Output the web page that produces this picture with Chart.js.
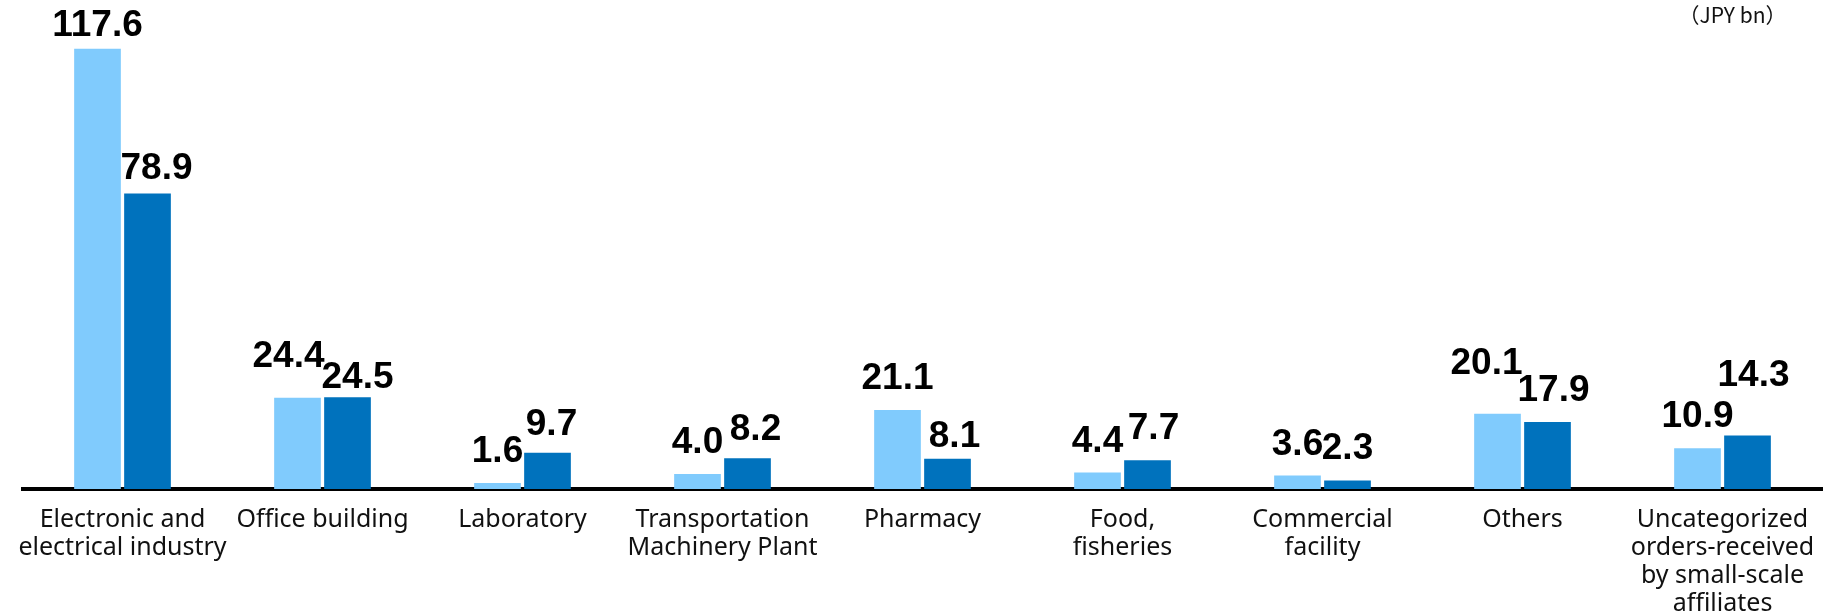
<!DOCTYPE html>
<html>
<head>
<meta charset="utf-8">
<script src="https://cdn.jsdelivr.net/npm/chart.js@4.4.1/dist/chart.umd.min.js"></script>
<style>
    html, body { margin: 0; padding: 0; background: #fff; }
</style>
</head>
<body>
<canvas id="orders" width="1839" height="614"></canvas>
<script>
var categories = [
    ['Electronic and', 'electrical industry'],
    'Office building',
    'Laboratory',
    ['Transportation', 'Machinery Plant'],
    'Pharmacy',
    ['Food,', 'fisheries'],
    ['Commercial', 'facility'],
    'Others',
    ['Uncategorized', 'orders-received', 'by small-scale', 'affiliates']
];
var priorValues = [117.6, 24.4, 1.6, 4.0, 21.1, 4.4, 3.6, 20.1, 10.9];
var currentValues = [78.9, 24.5, 9.7, 8.2, 8.1, 7.7, 2.3, 17.9, 14.3];
var unitLabel = '（JPY bn）';

// hand nudges [dx, dy] for the value labels so neighbours don't run into each other
var priorLabelShift = [[0, -8], [-9, 10], [0, 0], [0, 0], [0, 0], [0, 0], [0, 0], [-11, 19], [0, 0]];
var currentLabelShift = [[9, -6], [10, -12], [4, -3], [8, -3], [7, -9], [6, 0], [0, 0], [6, 0], [6, 28]];

// draws the numbers above the bars and the unit note in the corner
var valueLabels = {
    id: 'valueLabels',
    afterDatasetsDraw: function (chart) {
        var ctx = chart.ctx;
        ctx.save();
        ctx.font = 'bold 37px "Liberation Sans", Arial, sans-serif';
        ctx.fillStyle = '#000';
        ctx.textAlign = 'center';
        ctx.textBaseline = 'alphabetic';
        chart.data.datasets.forEach(function (ds, i) {
            var shifts = i === 0 ? priorLabelShift : currentLabelShift;
            chart.getDatasetMeta(i).data.forEach(function (bar, j) {
                var s = shifts[j];
                ctx.fillText(ds.data[j].toFixed(1), bar.x + s[0], bar.y - 21 - s[1]);
            });
        });

        ctx.font = '21px "Noto Sans CJK JP", "Liberation Sans", sans-serif';
        ctx.fillStyle = '#111';
        ctx.textBaseline = 'middle';
        ctx.fillText(unitLabel, chart.chartArea.right - 90, 15);
        ctx.restore();
    }
};

var ctx = document.getElementById('orders').getContext('2d');
var chart = new Chart(ctx, {
    type: 'bar',
    data: {
        labels: categories,
        datasets: [
            { label: 'Prior period', data: priorValues, backgroundColor: '#80CBFD', borderWidth: 0 },
            { label: 'Current period', data: currentValues, backgroundColor: '#0072BD', borderWidth: 0 }
        ]
    },
    options: {
        responsive: false,
        maintainAspectRatio: false,
        animation: false,
        categoryPercentage: 0.5,
        barPercentage: 0.934,
        layout: {
            padding: { left: 22.5, right: 16.5, top: 0, bottom: 0 }
        },
        scales: {
            x: {
                grid: { display: false, drawTicks: false },
                border: { display: true, color: '#000', width: 4 },
                ticks: {
                    color: '#111',
                    padding: 17,
                    maxRotation: 0,
                    autoSkip: false,
                    font: { family: '"Noto Sans", sans-serif', size: 25, lineHeight: 28 / 25 }
                },
                afterFit: function (scale) {
                    scale.height = 125; // keep the plot bottom fixed, labels may run long
                }
            },
            y: {
                display: false,
                min: 0,
                max: 130.6
            }
        },
        plugins: {
            legend: { display: false },
            tooltip: { enabled: false }
        }
    },
    plugins: [valueLabels]
});
</script>
</body>
</html>
